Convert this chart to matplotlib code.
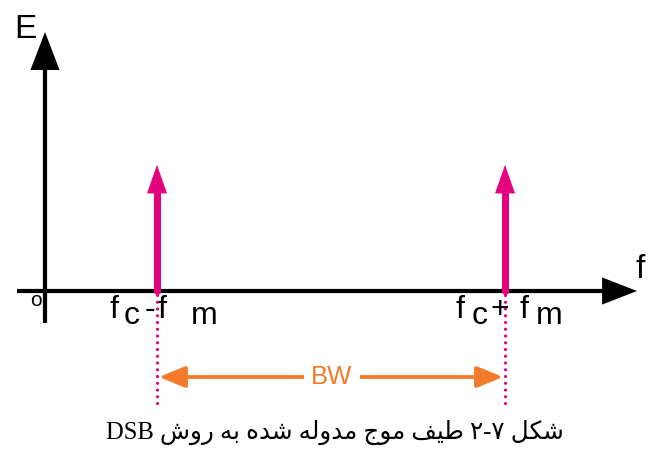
import matplotlib
matplotlib.use("Agg")
import matplotlib.pyplot as plt
from matplotlib.patches import FancyArrowPatch

# ---------------- data ----------------
fc = 286.0          # carrier position (axis units, origin at vertical axis)
fm = 174.0          # modulating frequency offset
components = [fc - fm, fc + fm]      # lower / upper side components
amplitudes = [126.0, 126.0]          # spectral line heights
y_label = "E"
x_label = "f"
origin_label = "o"
bw_label = "BW"
caption = "شکل ۷-۲ طیف موج مدوله شده به روش DSB"

# ---------------- colours / style ----------------
MAGENTA = "#E5007E"
ORANGE = "#F37A2B"
BLACK = "#000000"

# ---------------- simple Persian shaping (presentation forms) ----------------
FORMS = {
    'ب': ('\uFE8F', '\uFE90', '\uFE91', '\uFE92'),
    'ج': ('\uFE9D', '\uFE9E', '\uFE9F', '\uFEA0'),
    'د': ('\uFEA9', '\uFEAA', None, None),
    'ر': ('\uFEAD', '\uFEAE', None, None),
    'ش': ('\uFEB5', '\uFEB6', '\uFEB7', '\uFEB8'),
    'ط': ('\uFEC1', '\uFEC2', '\uFEC3', '\uFEC4'),
    'ف': ('\uFED1', '\uFED2', '\uFED3', '\uFED4'),
    'ل': ('\uFEDD', '\uFEDE', '\uFEDF', '\uFEE0'),
    'م': ('\uFEE1', '\uFEE2', '\uFEE3', '\uFEE4'),
    'ه': ('\uFEE9', '\uFEEA', '\uFEEB', '\uFEEC'),
    'و': ('\uFEED', '\uFEEE', None, None),
    'ک': ('\uFB8E', '\uFB8F', '\uFB90', '\uFB91'),
    'ی': ('\uFBFC', '\uFBFD', '\uFBFE', '\uFBFF'),
}


def shape(s):
    out = []
    for i, ch in enumerate(s):
        if ch not in FORMS:
            out.append(ch)
            continue
        f = FORMS[ch]
        dual = f[2] is not None
        prev = s[i - 1] if i > 0 else ''
        nxt = s[i + 1] if i + 1 < len(s) else ''
        pj = prev in FORMS and FORMS[prev][2] is not None
        nj = dual and nxt in FORMS
        if pj and nj:
            out.append(f[3])
        elif pj:
            out.append(f[1])
        elif nj:
            out.append(f[2])
        else:
            out.append(f[0])
    return ''.join(out)


def visual(s):
    r = shape(s)[::-1]
    # restore left-to-right order of Latin runs
    res, run = [], []
    for ch in r:
        if ch.isascii() and ch.isalpha():
            run.append(ch)
        else:
            if run:
                res.append(''.join(run[::-1]))
                run = []
            res.append(ch)
    if run:
        res.append(''.join(run[::-1]))
    return ''.join(res)


# ---------------- figure ----------------
fig = plt.figure(figsize=(6.48, 4.5), dpi=100)
ax = fig.add_axes([0, 0, 1, 1])
ax.set_xlim(-45, 603)
ax.set_ylim(-159, 291)
ax.axis("off")


def P(x, y):
    """pixel position (from top-left) -> axis units"""
    return (x - 45, 291 - y)


PT = 0.72  # points per pixel at 100 dpi

# axes arrows
for start, end, hl, hw in [(P(45, 323), P(45, 32), 30, 11.5),
                           (P(17, 291), P(637, 291), 27, 10.5)]:
    ax.add_patch(FancyArrowPatch(start, end,
                                 arrowstyle=f"-|>,head_length={hl*PT},head_width={hw*PT}",
                                 mutation_scale=1, lw=4.2 * PT, color=BLACK,
                                 shrinkA=0, shrinkB=0, joinstyle="miter",
                                 capstyle="butt"))

# spectral components
for xpos, amp in zip(components, amplitudes):
    ax.plot([xpos, xpos], [0, amp - 20], color=MAGENTA, lw=7 * PT,
            solid_capstyle="round", zorder=3)
    ax.add_patch(FancyArrowPatch((xpos, amp - 30), (xpos, amp),
                                 arrowstyle=f"-|>,head_length={27*PT},head_width={9.5*PT}",
                                 mutation_scale=1, lw=0.5, color=MAGENTA,
                                 shrinkA=0, shrinkB=0, zorder=3))
    ax.plot([xpos, xpos], [-4, -114], color=MAGENTA, lw=3.2 * PT,
            linestyle=(0, (0.01, 2.1)), dash_capstyle="round", zorder=2)

# bandwidth arrow
ybw = 291 - 377
ax.add_patch(FancyArrowPatch((components[0] + 2, ybw), (components[1] - 2, ybw),
                             arrowstyle=f"<|-|>,head_length={22*PT},head_width={9*PT}",
                             mutation_scale=1, lw=3.8 * PT, color=ORANGE,
                             shrinkA=0, shrinkB=0, zorder=3))
ax.text((components[0] + components[1]) / 2 + 1, ybw, bw_label, color=ORANGE,
        fontsize=18.5, family="Liberation Sans", ha="center", va="center",
        bbox=dict(facecolor="white", edgecolor="none", pad=5), zorder=4)

# axis labels
lab = dict(family="Liberation Sans", color=BLACK)
ax.text(*P(14, 38), y_label, fontsize=24, ha="left", va="baseline", **lab)
ax.text(*P(636, 278), x_label, fontsize=24, ha="left", va="baseline", **lab)
ax.text(*P(36, 301), origin_label, fontsize=15, ha="center", va="center", **lab)

# component labels
fs = 23
for (x, y, s) in [(110, 318, "f"), (124, 324, "c"), (145, 318, "-"),
                  (158, 318, "f"), (191, 324, "m"),
                  (456, 318, "f"), (472, 324, "c"), (491, 318, "+"),
                  (520, 318, "f"), (536, 324, "m")]:
    ax.text(*P(x, y), s, fontsize=fs, ha="left", va="baseline", **lab)

# caption
ax.text(*P(335, 432), visual(caption), fontsize=17.7,
        family=["Liberation Serif", "DejaVu Sans"], ha="center", va="center",
        color=BLACK)

fig.savefig("out.png", dpi=100)
